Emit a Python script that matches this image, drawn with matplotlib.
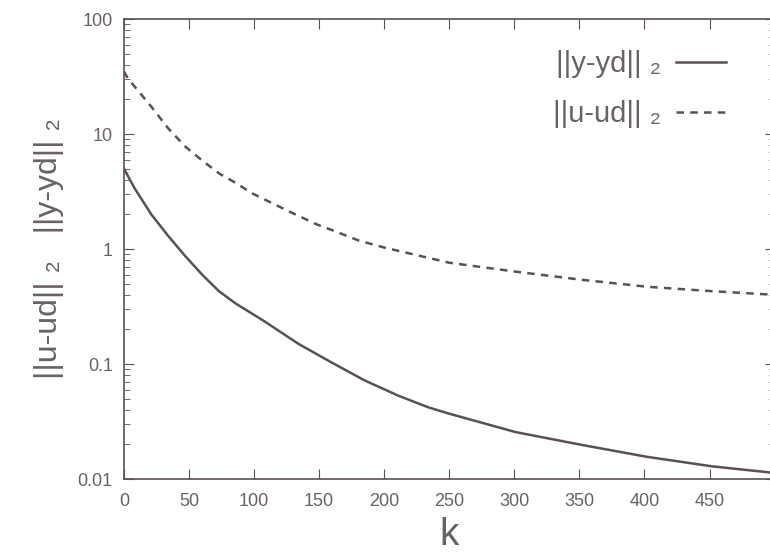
import matplotlib
matplotlib.use("Agg")
import matplotlib.pyplot as plt

plt.rcParams['font.family'] = ['Liberation Sans', 'DejaVu Sans']

# Data
k_y = [0, 8, 21, 34, 47, 60, 73, 86, 95, 108, 134, 159, 185, 211, 234,
       250, 301, 352, 402, 452, 500]
y_err = [5.0, 3.4, 2.0, 1.3, 0.87, 0.60, 0.43, 0.335, 0.29, 0.235, 0.15, 0.104,
         0.072, 0.053, 0.042, 0.037, 0.0256, 0.0198, 0.0156, 0.0129, 0.0113]

k_u = [0, 3, 21, 34, 47, 60, 73, 86, 98, 111, 124, 148, 162, 180, 200,
       250, 301, 352, 402, 452, 500]
u_err = [35.0, 30.4, 17.3, 11.2, 7.8, 5.9, 4.55, 3.75, 3.07, 2.6, 2.2, 1.64,
         1.43, 1.19, 1.03, 0.76, 0.636, 0.54, 0.47, 0.43, 0.40]

x_ticks = [0, 50, 100, 150, 200, 250, 300, 350, 400, 450]
y_ticks = [0.01, 0.1, 1, 10, 100]
y_ticklabels = ['0.01', '0.1', '1', '10', '100']

col = '#5a5055'
txt = '#6a6262'

fig = plt.figure(figsize=(7.7, 5.59), dpi=100)
ax = fig.add_axes([0.161, 0.143, 0.845, 0.823])

ax.plot(k_y, y_err, color=col, lw=1.8, label='||y-yd|| \u2082')
ax.plot(k_u, u_err, color=col, lw=1.8, ls=(0, (3, 2.5)), label='||u-ud|| \u2082')

ax.set_yscale('log')
ax.set_xlim(0, 500)
ax.set_ylim(0.01, 100)
ax.set_xticks(x_ticks)
ax.set_xticklabels([str(v) for v in x_ticks])
ax.set_yticks(y_ticks)
ax.set_yticklabels(y_ticklabels)
ax.tick_params(which='both', direction='in', top=True, right=True, colors=col,
               labelcolor=txt, labelsize=13)
ax.tick_params(axis='x', pad=10)
ax.tick_params(axis='y', pad=8)
ax.tick_params(which='major', length=7)
ax.tick_params(which='minor', length=4)
for s in ax.spines.values():
    s.set_color(col)
    s.set_linewidth(1.2)

ax.set_xlabel('k', fontsize=28, color=txt, labelpad=5)
ax.set_ylabel('||u-ud|| \u2082   ||y-yd|| \u2082', fontsize=23, color=txt, labelpad=10)

leg = ax.legend(loc='upper right', frameon=False, markerfirst=False, fontsize=21,
                handlelength=1.7, handletextpad=0.5, labelspacing=0.75,
                bbox_to_anchor=(0.965, 0.99))
for t in leg.get_texts():
    t.set_color(txt)

fig.savefig('out.png', dpi=100)
